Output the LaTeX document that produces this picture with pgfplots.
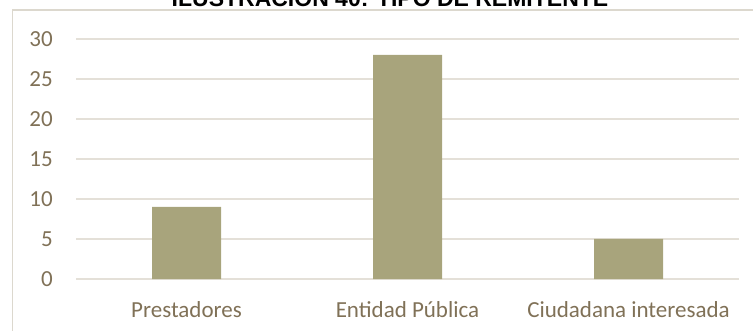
\documentclass[border=0pt]{standalone}
\usepackage{pgfplots}
\pgfplotsset{compat=1.18}
\usepackage{fontspec}
\setmainfont{Carlito}
\newfontfamily\titlefont{Liberation Sans}
\definecolor{barcol}{RGB}{168,164,124}
\definecolor{txtcol}{RGB}{128,113,87}
\definecolor{gridcol}{RGB}{228,224,216}
\definecolor{framecol}{RGB}{220,216,206}
\begin{document}
\begin{tikzpicture}
\useasboundingbox (0,0) rectangle (753bp,331bp);
\clip (0,0) rectangle (753bp,331bp);
\draw[framecol, line width=1.2bp] (12.5bp,-2bp) -- (12.5bp,321bp) -- (755bp,321bp);
\node[anchor=base, inner sep=0pt, font=\titlefont\bfseries\fontsize{23bp}{27bp}\selectfont] at (390bp,324bp) {ILUSTRACIÓN 40: TIPO DE REMITENTE};
\begin{axis}[
  at={(76bp,52bp)}, anchor=south west,
  scale only axis, width=663bp, height=240bp,
  xmin=-0.5, xmax=2.5, ymin=0, ymax=30,
  xtick={0,1,2},
  xticklabels={Prestadores, Entidad Pública, Ciudadana interesada},
  ytick={0,5,...,30},
  /pgf/number format/assume math mode=true,
  ymajorgrids, grid style={gridcol, line width=1.2bp},
  axis line style={draw=none},
  major tick length=0pt,
  tick label style={font=\fontsize{23bp}{27bp}\selectfont, text=txtcol},
  xticklabel style={anchor=base, inner sep=0pt, yshift=-38bp},
  yticklabel style={anchor=east, inner sep=0pt, xshift=-23bp},
  clip=false,
]
\addplot[ybar, bar width=69bp, fill=barcol, draw=none] coordinates {(0,9) (1,28) (2,5)};
\end{axis}
\end{tikzpicture}
\end{document}
